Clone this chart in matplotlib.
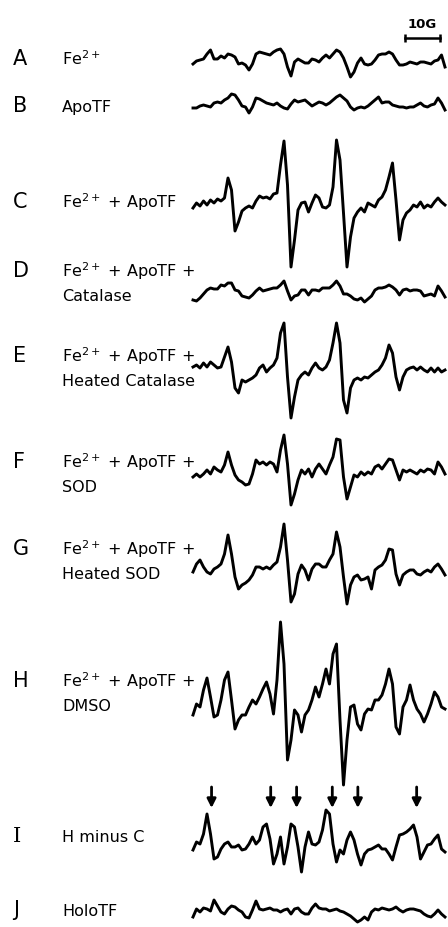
import numpy as np
import matplotlib.pyplot as plt

W, H = 448, 927          # output size in pixels
X_LEFT, X_RIGHT = 193, 445

# magnetic field axis, gauss (1 G steps across the sweep)
field = np.arange(0, 73, 1.0)

# first-derivative EPR traces, amplitude in arbitrary units
trace_a = [-2, 1, 2, 3, 8, 12, 3, 3, 6, 4, 8, 7, 5, -2, -1, -3, -8, -2, 8, 10,
           9, 8, 7, 10, 12, 13, 8, -5, -14, 0, 3, 1, -1, -1, 3, 2, 0, 4, 7, 4,
           8, 12, 10, 4, -5, -15, -10, -1, 4, -2, -3, -2, 2, 7, 8, 8, 10, 8, 2, -3,
           -3, -2, 0, -1, -2, 0, 0, -1, -2, 1, 2, 7, -5]
trace_b = [-3, -3, -1, 0, -1, -2, 2, 3, 2, 5, 7, 11, 10, 5, -1, -2, -8, -2, 7, 6,
           4, 2, 1, 0, 2, -1, -3, -4, 1, 5, 3, 4, 5, 2, -1, 1, 3, 2, 0, 2,
           5, 8, 10, 7, 4, -2, -5, -3, -2, -3, -1, 2, 5, 8, 2, 3, 3, 0, -1, -2,
           -2, -3, -2, -2, 0, 2, -1, -2, 0, 1, 7, 2, -5]
trace_c = [-3, 2, -1, 4, 0, 5, 2, 6, 4, 7, 27, 15, -26, -17, -6, -3, -1, -3, 4, 9,
           7, 8, 6, 11, 12, 40, 64, 20, -62, -35, -5, 2, 3, -7, 2, 10, 7, -2, -3, 0,
           18, 65, 45, -8, -62, -32, -13, -7, -3, -7, 2, 0, -2, 5, 8, 15, 28, 42, 5, -35,
           -15, -8, -5, 0, -2, 3, -3, 0, -2, 3, 7, 3, 0]
trace_d = [-7, -8, -5, -1, 3, 5, 4, 4, 8, 7, 10, 10, 3, 2, -3, -4, -5, -2, 2, 5,
           2, 3, 4, 5, 5, 8, 12, 2, -7, -3, -2, 3, 3, -2, 3, 3, 2, 5, 5, 5,
           8, 12, 7, -1, -1, -3, -6, -7, -5, -9, -6, -3, 3, 5, 5, 6, 8, 6, 3, -2,
           3, 4, 2, 3, 3, 2, -3, -2, -1, -3, 7, 2, -4]
trace_e = [3, 5, 2, 7, 3, 8, 5, 2, 3, 13, 23, 8, -18, -23, -10, -12, -10, -8, -5, 2,
           5, -2, 2, 5, 12, 37, 47, -7, -48, -27, -10, -5, -2, -5, 2, 7, 2, 0, 3, 10,
           27, 47, 27, -30, -43, -18, -10, -8, -10, -7, -8, -5, -2, 0, 5, 12, 25, 17, -7, -20,
           -7, 0, 2, 3, 0, 3, 0, -2, 2, -2, 2, -2, 0]
trace_f = [-5, -2, -5, -2, 2, -2, 5, 2, 0, 7, 20, 7, -3, -8, -10, -13, -12, -2, 12, 8,
           10, 7, 10, 8, 0, 22, 37, 8, -33, -22, -8, 2, -2, 3, -5, 3, 8, 3, -2, 7,
           15, 33, 32, -5, -27, -15, -3, -5, 0, -3, 0, -2, 5, 7, 3, 8, 13, 12, 2, -8,
           2, 0, 2, 0, -2, 2, 0, 3, 2, -2, 10, 5, -2]
trace_g = [-5, 3, 7, 0, -5, -7, -2, 0, 3, 13, 32, 13, -10, -22, -18, -16, -13, -8, 0, 0,
           -2, 0, -2, 2, 5, 20, 43, 7, -35, -27, -7, 2, -3, -13, -2, 3, 3, 0, 0, 7,
           13, 35, 20, -10, -37, -18, -10, -8, -13, -12, -10, -22, -3, 0, 2, 7, 18, 17, -7, -18,
           -8, -5, -3, -3, -7, -8, -5, -3, -5, 0, 3, -2, -8]
trace_h = [-8, 3, 0, 17, 29, 10, -10, -8, 7, 27, 35, 7, -22, -13, -8, -8, 0, 7, 3, 10,
           18, 25, 13, -7, 27, 85, 43, -53, -33, -3, -8, -25, -8, -3, 7, 20, 10, 23, 38, 23,
           53, 63, -13, -78, -33, 0, 2, -17, -23, -7, -2, -3, 7, 7, 12, 23, 38, 23, -20, -27,
           0, 7, 22, 7, -2, -7, -15, -7, 3, 15, 10, 0, -2]
trace_i = [-3, 5, 3, 13, 33, 13, -12, -10, -2, 3, 5, 0, 0, 2, -3, -2, 3, 10, 3, 7,
           20, 23, 8, -17, -7, 10, -17, 0, 23, 20, 0, -25, 0, 15, 3, 2, 5, 17, 37, 33,
           3, -15, -3, -7, 7, 15, 7, -7, -18, -7, -3, -2, 0, 2, -2, -2, -7, -13, 0, 12,
           13, 15, 18, 22, 10, -12, -5, 2, 3, 8, 12, -2, -5]
trace_j = [-5, 3, 0, 4, 3, 1, 12, 6, 0, -2, 3, 6, 5, 2, 0, -5, -6, 2, 11, 3,
           2, 3, 4, 2, 2, 0, 2, 3, -2, 3, 4, 0, -2, -2, 4, 8, 4, 3, 3, 1,
           2, 3, 1, 0, -2, -4, -7, -10, -8, -5, -8, 0, 3, 2, 4, 3, 2, 3, 5, 2,
           0, 2, 3, 3, 2, 1, -2, -4, -5, -2, 2, -2, -5]

letters = ['A', 'B', 'C', 'D', 'E', 'F', 'G', 'H', 'I', 'J']
labels = [[r'Fe$^{2+}$'],
          ['ApoTF'],
          [r'Fe$^{2+}$ + ApoTF'],
          [r'Fe$^{2+}$ + ApoTF +', 'Catalase'],
          [r'Fe$^{2+}$ + ApoTF +', 'Heated Catalase'],
          [r'Fe$^{2+}$ + ApoTF +', 'SOD'],
          [r'Fe$^{2+}$ + ApoTF +', 'Heated SOD'],
          [r'Fe$^{2+}$ + ApoTF +', 'DMSO'],
          ['H minus C'],
          ['HoloTF']]
traces = [trace_a, trace_b, trace_c, trace_d, trace_e,
          trace_f, trace_g, trace_h, trace_i, trace_j]

# lines in H that are missing from C (arrows above trace I), gauss
arrow_fields = [5.3, 22.2, 29.6, 39.8, 47.1, 63.9]
scale_gauss = 10

# layout (pixels from top)
baselines = [62, 105, 205, 293, 370, 472, 567, 707, 847, 912]
label_y = [65, 112, 208, 277, 362, 468, 555, 687, 842, 916]
LINE_GAP = 24
HALF = 100


def px_text(fig, x, y, s, **kw):
    fig.text(x / W, 1 - y / H, s, va='baseline', **kw)


def trace_axes(fig, base):
    ax = fig.add_axes([X_LEFT / W, 1 - (base + HALF) / H,
                       (X_RIGHT - X_LEFT) / W, 2 * HALF / H])
    ax.set_xlim(field[0], field[-1])
    ax.set_ylim(-HALF, HALF)
    ax.axis('off')
    ax.patch.set_alpha(0)
    return ax


plt.rcParams['mathtext.fontset'] = 'dejavusans'
fig = plt.figure(figsize=(W / 100, H / 100), dpi=100)
fig.patch.set_facecolor('white')

for letter, lab, tr, base, ly in zip(letters, labels, traces, baselines, label_y):
    ax = trace_axes(fig, base)
    ax.plot(field, tr, color='black', lw=2.1, solid_joinstyle='round', clip_on=False)

    fam = 'DejaVu Serif' if letter == 'I' else 'DejaVu Sans'
    px_text(fig, 13, ly, letter, fontsize=15, family=fam)
    for k, line in enumerate(lab):
        px_text(fig, 62, ly + k * LINE_GAP, line, fontsize=11.5)

    if letter == 'A':
        # 10 G scale bar
        x0 = field[-1] - scale_gauss - 1.5
        ax.plot([x0, x0 + scale_gauss], [24, 24], color='black', lw=1.8,
                marker='|', markersize=6, mew=1.8, clip_on=False)
        ax.text(x0 + scale_gauss / 2, 34, '10G', ha='center', va='baseline',
                fontsize=9.5, fontweight='bold')
    if letter == 'I':
        for g in arrow_fields:
            ax.annotate('', xy=(g, 39), xytext=(g, 60),
                        arrowprops=dict(arrowstyle='-|>', color='black', lw=2.0,
                                        mutation_scale=13, shrinkA=0, shrinkB=0))

fig.savefig('out.png', dpi=100, facecolor='white')
